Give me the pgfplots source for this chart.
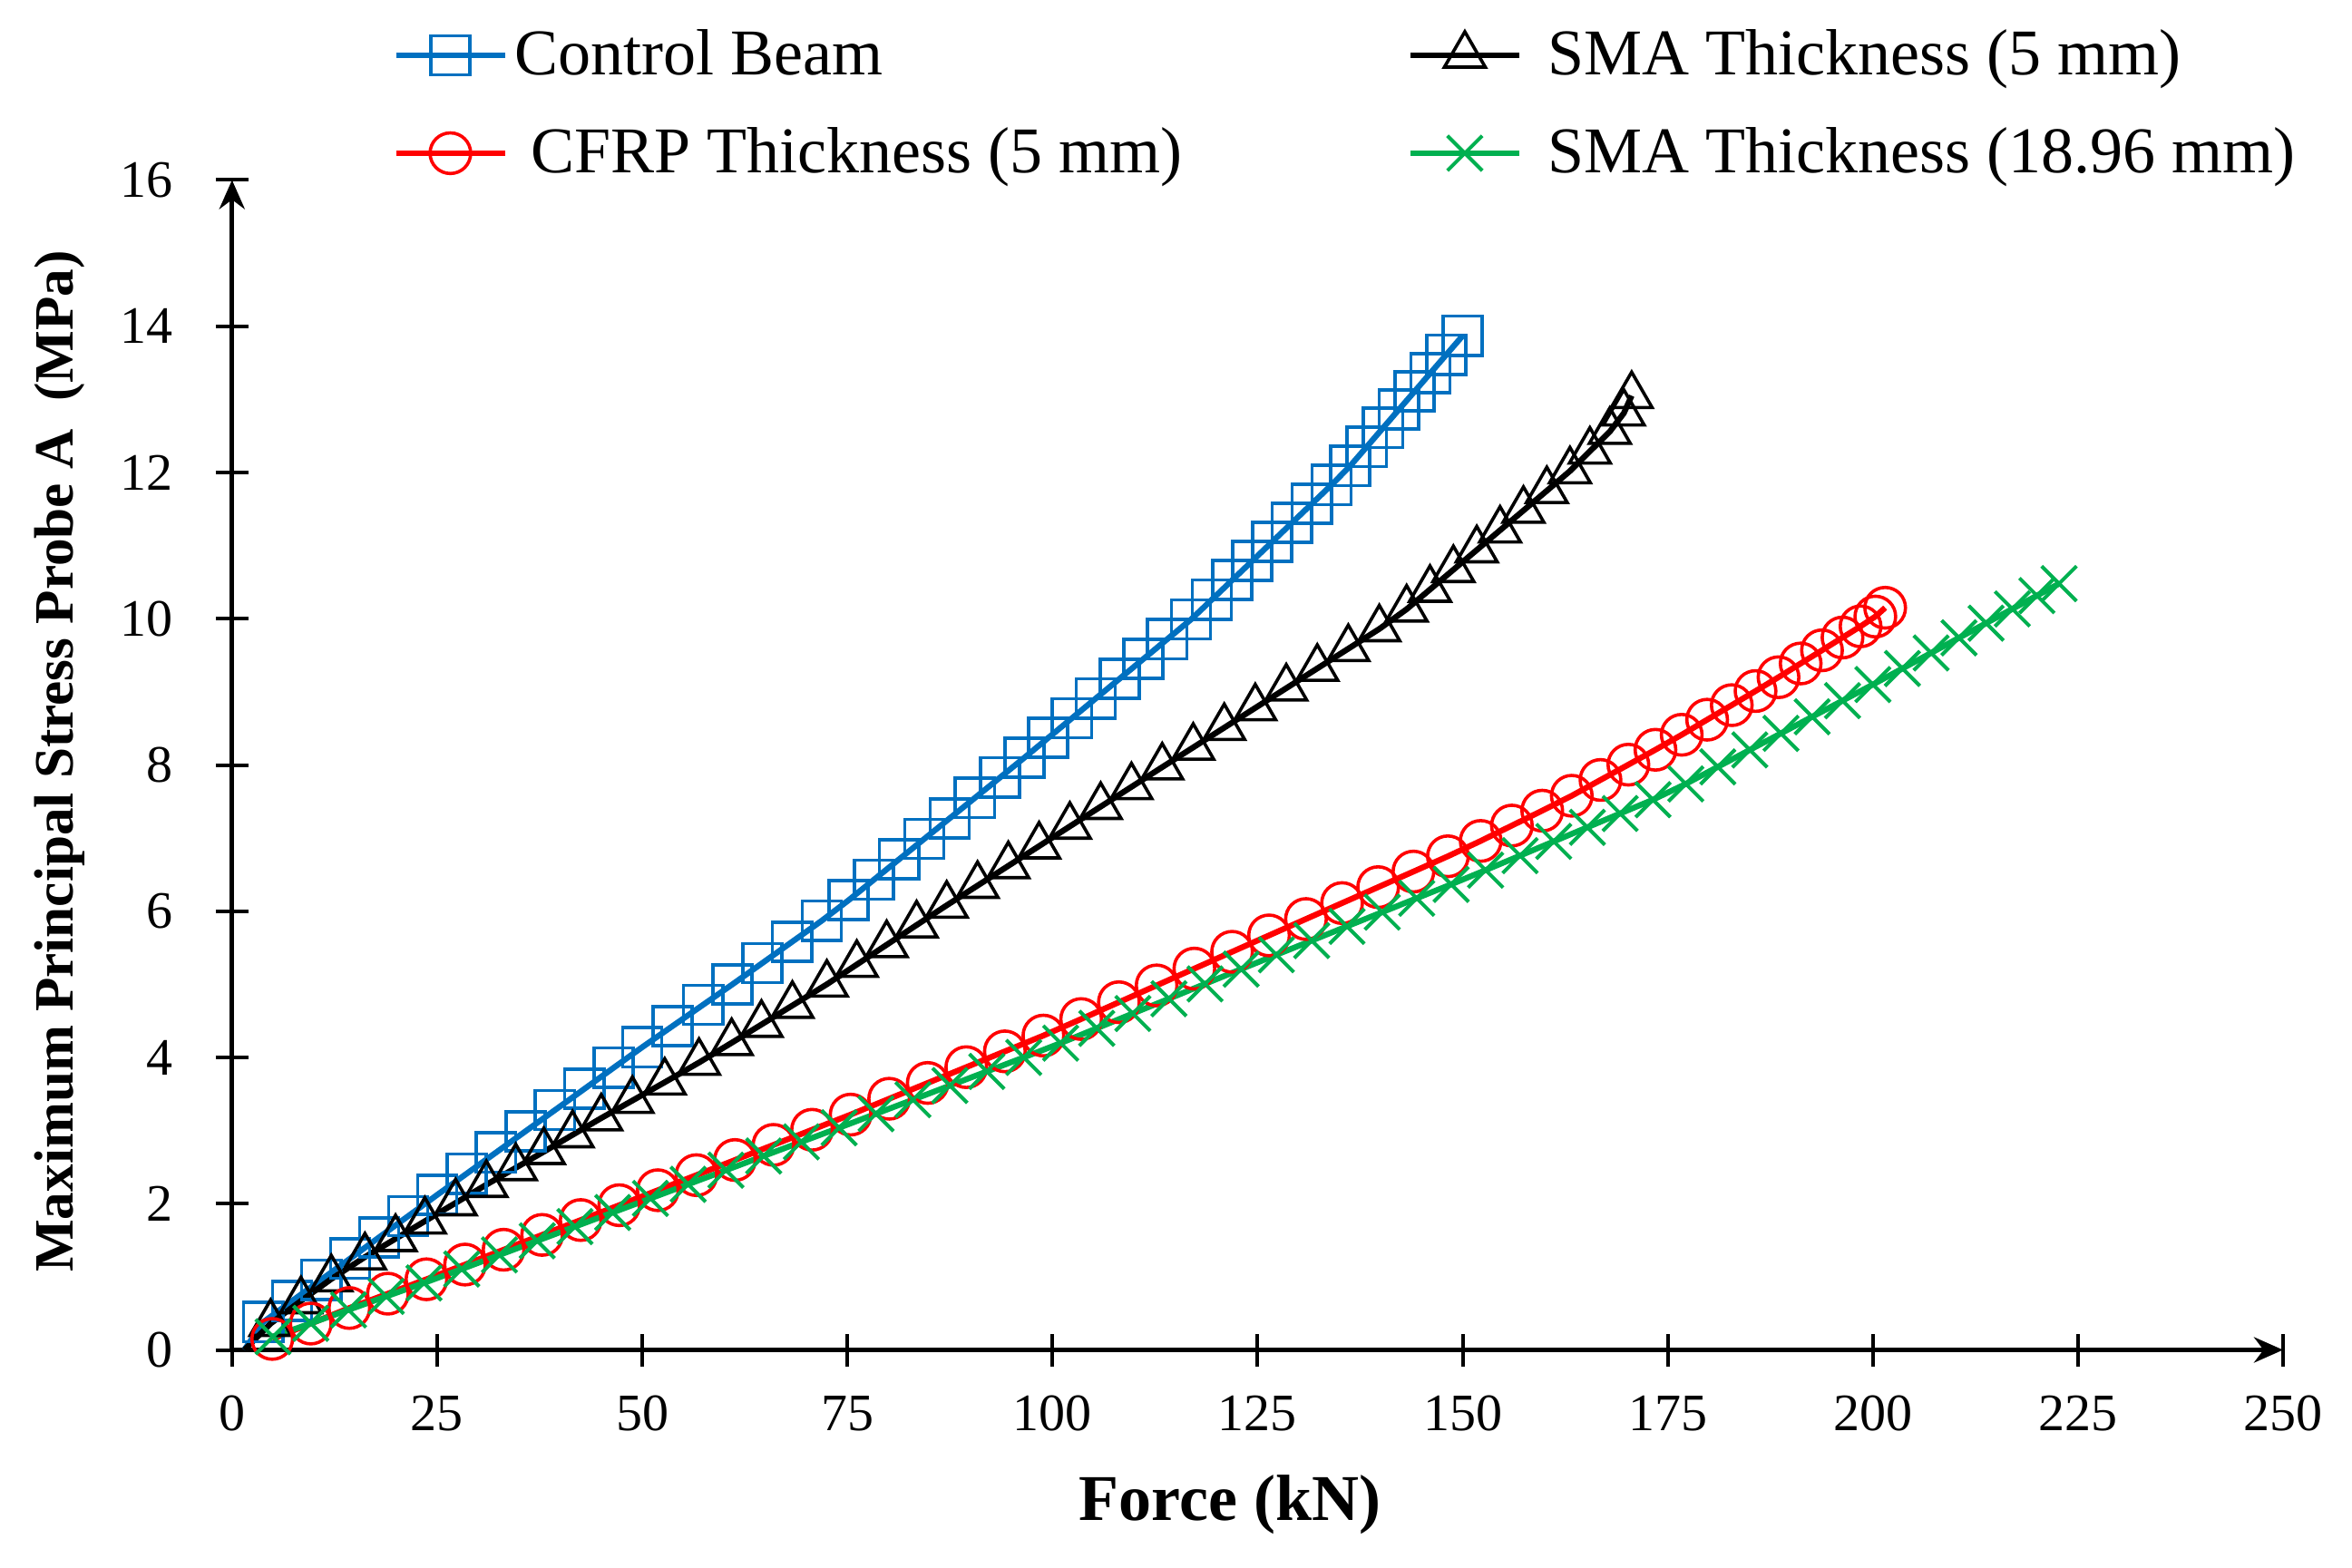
\documentclass[border=0pt]{standalone}
\usepackage{fontspec}
\setmainfont{Liberation Serif}
\usepackage{pgfplots}
\pgfplotsset{compat=1.18}
\usetikzlibrary{arrows.meta}
\definecolor{cblue}{HTML}{0070C0}
\definecolor{cred}{HTML}{FF0000}
\definecolor{cgreen}{HTML}{00B050}
\begin{document}
\begin{tikzpicture}
\useasboundingbox (-63.95pt,-59.875pt) rectangle (584.3pt,372.125pt);
\begin{axis}[
  at={(0pt,0pt)}, anchor=south west,
  scale only axis, width=565.3pt, height=322.5pt,
  xmin=0, xmax=250, ymin=0, ymax=16,
  axis lines=left,
  axis line style={line width=1.3pt, -{Stealth[length=8pt,width=7pt]}},
  xtick={0,25,...,250}, ytick={0,2,...,16},
  tick align=center, major tick length=9pt,
  tick style={line width=1pt, black},
  /pgf/number format/assume math mode=true,
  ticklabel style={font=\fontsize{14.5}{14.5}\selectfont},
  xticklabel style={anchor=north, inner sep=0pt, yshift=-8pt},
  yticklabel style={anchor=east, inner sep=0pt, xshift=-11.5pt},
  clip=false,
  xlabel={Force (kN)},
  xlabel style={at={(axis description cs:0.4866,-0.1321)}, anchor=center, font=\fontsize{18}{18}\selectfont\bfseries},
  ylabel={Maximum Principal Stress Probe A\ \ (MPa)},
  ylabel style={at={(axis description cs:-0.0839,0.503)}, anchor=center, font=\fontsize{15.3}{15.3}\selectfont\bfseries},
  legend columns=2,
  legend cell align=left,
  legend image code/.code={\draw[mark repeat=2,mark phase=2,#1] plot coordinates {(0pt,0pt) (15pt,0pt) (30pt,0pt)};},
  legend style={at={(axis description cs:0.0785,1.1283)}, anchor=north west, draw=none, fill=none, inner sep=0pt, outer sep=0pt, font=\fontsize{18}{18}\selectfont, row sep=13pt, nodes={inner sep=0pt}, /tikz/every odd column/.append style={column sep=2pt}, /tikz/every even column/.append style={column sep=62pt}},
]
\addplot[color=cblue, line width=1.6pt, mark=square, mark size=5.4pt, mark options={line width=0.9pt, solid}, mark repeat=1, mark phase=2] coordinates {
(1.5,0) (3.8,0.38) (7.33,0.67) (10.87,0.96) (14.40,1.25) (17.93,1.54) (21.47,1.83) (25.0,2.12) (28.59,2.41) (32.18,2.70) (35.77,2.99) (39.36,3.28) (42.95,3.57) (46.53,3.86) (50.0,4.14) (53.71,4.43) (57.42,4.72) (61.0,5.00) (64.63,5.29) (68.25,5.58) (71.88,5.87) (75.15,6.15) (78.23,6.43) (81.31,6.71) (84.39,6.99) (87.47,7.27) (90.55,7.55) (93.63,7.83) (96.58,8.10) (99.48,8.37) (102.38,8.64) (105.28,8.91) (108.19,9.18) (111.09,9.45) (113.99,9.72) (116.89,9.99) (119.42,10.26) (121.93,10.53) (124.35,10.79) (126.77,11.05) (129.18,11.31) (131.60,11.57) (134.02,11.83) (136.29,12.09) (138.30,12.35) (140.30,12.61) (142.22,12.86) (144.15,13.11) (146.07,13.36) (148.00,13.61) (150.0,13.87)
};
\addlegendentry{Control Beam}
\addplot[color=black, line width=1.6pt, mark=triangle, mark size=6.5pt, mark options={line width=0.9pt, solid}, mark repeat=1, mark phase=2] coordinates {
(1.5,0) (4.7,0.36) (8.4,0.67) (12.1,0.97) (16.2,1.27) (19.93,1.52) (23.5,1.76) (27.25,2.01) (31.0,2.26) (34.58,2.49) (38.0,2.71) (41.5,2.94) (45.0,3.17) (48.8,3.41) (52.74,3.66) (56.92,3.93) (60.9,4.20) (64.53,4.45) (68.3,4.71) (72.5,5.00) (76.15,5.27) (79.79,5.54) (83.44,5.81) (87.11,6.08) (90.87,6.35) (94.62,6.62) (98.37,6.89) (102.12,7.16) (105.88,7.43) (109.63,7.70) (113.38,7.97) (117.16,8.24) (120.94,8.51) (124.72,8.78) (128.5,9.05) (132.28,9.32) (136.06,9.59) (139.84,9.86) (143.17,10.13) (146.02,10.40) (148.87,10.67) (151.72,10.94) (154.56,11.21) (157.41,11.48) (160.26,11.75) (163.08,12.02) (165.51,12.29) (167.94,12.56) (169.64,12.81) (170.6,13.05)
};
\addlegendentry{\hspace{5pt}SMA Thickness (5 mm)}
\addplot[color=cred, line width=1.6pt, mark=o, mark size=5.6pt, mark options={line width=0.9pt, solid}] coordinates {
(4.9,0.15) (9.6,0.36) (14.3,0.573) (19.0,0.769) (23.7,0.966) (28.4,1.167) (33.1,1.370) (37.8,1.573) (42.5,1.776) (47.2,1.979) (51.9,2.184) (56.6,2.390) (61.3,2.597) (66.0,2.804) (70.7,3.011) (75.4,3.218) (80.1,3.435) (84.8,3.651) (89.5,3.867) (94.2,4.083) (98.9,4.299) (103.5,4.525) (108.1,4.755) (112.7,4.985) (117.3,5.215) (121.9,5.445) (126.4,5.669) (130.9,5.893) (135.3,6.111) (139.7,6.329) (144.0,6.542) (148.2,6.751) (152.2,6.961) (156.0,7.171) (159.7,7.375) (163.3,7.579) (166.8,7.795) (170.2,8.004) (173.5,8.208) (176.7,8.413) (179.8,8.619) (182.8,8.818) (185.7,9.011) (188.5,9.200) (191.2,9.388) (193.8,9.568) (196.3,9.743) (198.5,9.896) (200.3,10.03) (201.5,10.15)
};
\addlegendentry{\hspace{4.5pt}CFRP Thickness (5 mm)}
\addplot[color=cgreen, line width=1.6pt, mark=x, mark size=6.8pt, mark options={line width=1pt, solid}] coordinates {
(5.0,0.18) (9.6,0.364) (14.2,0.548) (18.8,0.732) (23.4,0.916) (28.0,1.106) (32.6,1.299) (37.2,1.492) (41.8,1.686) (46.4,1.879) (51.0,2.072) (55.6,2.265) (60.2,2.458) (64.8,2.652) (69.4,2.845) (74.0,3.038) (78.5,3.230) (83.0,3.422) (87.5,3.615) (92.0,3.808) (96.5,4.000) (101.0,4.196) (105.4,4.398) (109.8,4.601) (114.2,4.803) (118.6,5.006) (123.0,5.208) (127.3,5.404) (131.6,5.598) (135.9,5.793) (140.2,5.987) (144.4,6.177) (148.6,6.367) (152.8,6.562) (157.0,6.760) (161.1,6.954) (165.2,7.147) (169.2,7.336) (173.2,7.525) (177.2,7.741) (181.1,7.974) (185.0,8.206) (188.8,8.432) (192.6,8.659) (196.3,8.879) (200.0,9.100) (203.6,9.319) (207.1,9.532) (210.5,9.739) (213.8,9.939) (217.0,10.134) (220.0,10.316) (222.7,10.48)
};
\addlegendentry{\hspace{5pt}SMA Thickness (18.96 mm)}
\end{axis}
\end{tikzpicture}
\end{document}
